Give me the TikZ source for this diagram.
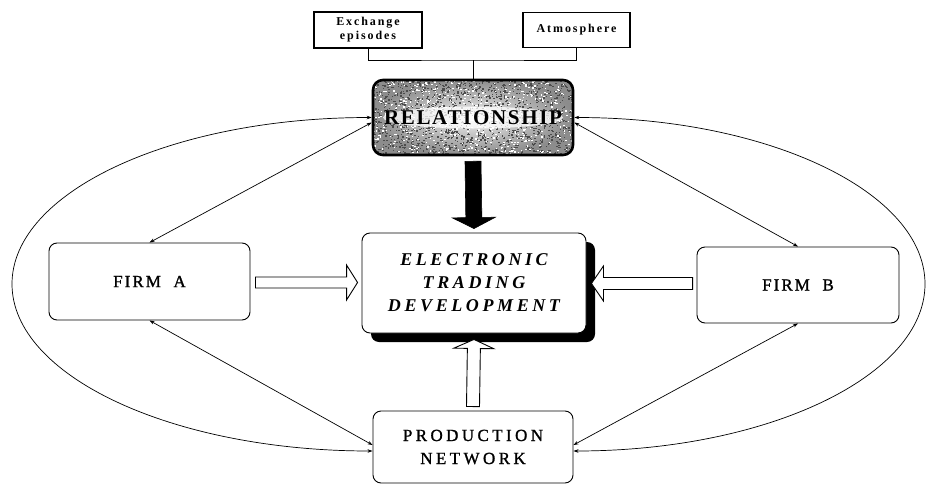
\documentclass[tikz,border=0pt]{standalone}
\usepackage{fontspec}
\setmainfont{Liberation Serif}
\usetikzlibrary{calc,arrows.meta,shadows}

% block arrow drawn as a polygon: style, start, tip, shaft half-width, head half-width, head length
\newcommand\blockarrow[6]{%
  \coordinate (ba-hb) at ($(#3)!#6!(#2)$);
  \path[#1] ($(#2)!#4!90:(#3)$) -- ($(ba-hb)!#4!-90:(#2)$) -- ($(ba-hb)!#5!-90:(#2)$)
    -- (#3) -- ($(ba-hb)!#5!90:(#2)$) -- ($(ba-hb)!#4!90:(#2)$)
    -- ($(#2)!#4!-90:(#3)$) -- cycle;}

\begin{document}
\begin{tikzpicture}[x=1pt,y=-1pt,
  box/.style={draw, line width=0.9pt, rounded corners=8pt, inner sep=0pt,
    align=center, fill=white},
  smallbox/.style={draw, line width=1.1pt, inner sep=0pt, align=center,
    font=\fontsize{12}{14}\selectfont\bfseries\addfontfeature{LetterSpace=16}},
  link/.style={line width=0.7pt},
  tie/.style={line width=0.7pt,
    {Stealth[length=5pt,width=3.5pt]}-{Stealth[length=5pt,width=3.5pt]}},
  hollowarrow/.style={draw, line width=0.9pt, fill=white, line join=miter},
  blackarrow/.style={draw, line width=0.6pt, fill=black, line join=miter},
  firmfont/.style={font=\fontsize{17}{23}\selectfont\addfontfeature{LetterSpace=12,FakeBold=1.2}},
  netfont/.style={font=\fontsize{17}{23}\selectfont\addfontfeature{LetterSpace=20,FakeBold=1.2}}
]
\useasboundingbox (0,0) rectangle (927,485);

% small boxes on top
\node[smallbox, minimum width=108pt, minimum height=36pt] (ex) at (368,30) {Exchange\\episodes};
\node[smallbox, minimum width=107pt, minimum height=35pt] (atm) at (576.5,30) {Atmosphere};

% relationship box: shaded, speckled background
\node[rounded corners=10pt, minimum width=200pt, minimum height=75pt,
      inner color=gray!10, outer color=gray!90] (relbg) at (473,117.5) {};
\begin{scope}
  \clip[rounded corners=10pt] (relbg.north west) rectangle (relbg.south east);
  \pgfmathsetseed{7}
  \foreach \k in {1,...,1500}{
    \pgfmathsetmacro\px{373+200*rnd}
    \pgfmathsetmacro\py{80+75*rnd}
    \fill[black!70] (\px,\py) rectangle ++(1.5,1.2);
  }
  \foreach \k in {1,...,600}{
    \pgfmathsetmacro\px{373+200*rnd}
    \pgfmathsetmacro\py{80+75*rnd}
    \fill[white] (\px,\py) rectangle ++(1.5,1.2);
  }
  % lighter band behind the lettering
  \fill[white, opacity=0.75] (relbg.center) ellipse [x radius=90pt, y radius=11pt];
\end{scope}
\node[draw, line width=2.6pt, rounded corners=10pt, minimum width=200pt,
      minimum height=75pt,
      font=\fontsize{21}{24}\selectfont\bfseries\addfontfeature{LetterSpace=8}]
      (rel) at (473,117.5) {RELATIONSHIP};

% central box with drop shadow
\node[box, minimum width=224pt, minimum height=100pt,
      drop shadow={shadow xshift=9pt, shadow yshift=-9pt, fill=black, opacity=1},
      font=\fontsize{18}{23}\selectfont\bfseries\itshape\addfontfeature{LetterSpace=20}]
      (etd) at (474,283) {ELECTRONIC\\TRADING\\DEVELOPMENT};

% side and bottom boxes
\node[box, firmfont, minimum width=201pt, minimum height=77pt] (firma) at (149.5,281.5) {FIRM\ \ A};
\node[box, firmfont, minimum width=202pt, minimum height=76pt] (firmb) at (798,285) {FIRM\ \ B};
\node[box, netfont, minimum width=200pt, minimum height=72pt] (pn) at (473,447) {PRODUCTION\\NETWORK};

% links from the small boxes
\coordinate (jn) at (473,60);
\draw[link] (ex.south) |- (jn) -| (atm.south);
\draw[link] (jn) -- (rel.north);

% outer curved links
\coordinate (lx) at (12,284);
\coordinate (rx) at (925,284);
\draw[tie] (rel.west) .. controls +(-200,0) and +(0,-92) .. (lx)
  .. controls +(0,92) and +(-200,0) .. ([yshift=-4pt]pn.west);
\draw[tie] (rel.east) .. controls +(194,0) and +(0,-92) .. (rx)
  .. controls +(0,92) and +(194,0) .. ([yshift=-4pt]pn.east);

% diagonal links
\draw[tie] ([yshift=-5pt]rel.west) -- (firma.north);
\draw[tie] ([yshift=-5pt]rel.east) -- (firmb.north);
\draw[tie] (firma.south) -- ([yshift=2pt]pn.west);
\draw[tie] (firmb.south) -- ([yshift=2pt]pn.east);

% block arrows into the central box
\coordinate (r1) at ($(rel.south)+(0,5)$);
\coordinate (r2) at ($(etd.north)+(0,-4)$);
\blockarrow{blackarrow}{r1}{r2}{8pt}{21.5pt}{11pt}

\coordinate (a1) at ($(firma.east)+(5,1)$);
\coordinate (a2) at ($(firma.east -| etd.west)+(-4,1)$);
\blockarrow{hollowarrow}{a1}{a2}{5.5pt}{17.5pt}{11pt}

\coordinate (b1) at ($(firmb.west)+(-4,-1.5)$);
\coordinate (b2) at ($(firmb.west -| etd.east)+(5,-1.5)$);
\blockarrow{hollowarrow}{b1}{b2}{6pt}{17.5pt}{12pt}

\coordinate (c1) at ($(pn.north)+(0,-4)$);
\coordinate (c2) at ($(etd.south)+(0,6)$);
\blockarrow{hollowarrow}{c1}{c2}{6.5pt}{20pt}{9pt}
\end{tikzpicture}
\end{document}
